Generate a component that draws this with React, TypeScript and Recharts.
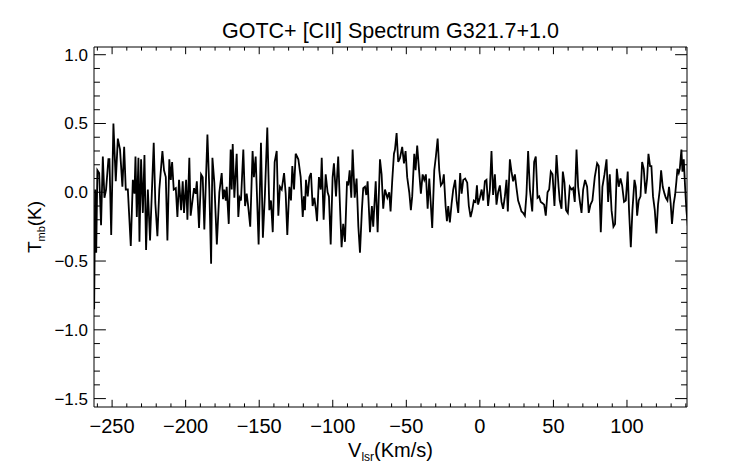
import { LineChart, Line, XAxis, YAxis } from "recharts";

// GOTC+ [CII] spectrum toward G321.7+1.0
const velocity = [
  -262.2, -261.5, -260.8, -260.0, -258.8, -257.5, -256.3, -255.2, -254.1, -252.5,
  -251.8, -250.6, -249.1, -247.5, -246.1, -244.6, -243.0, -241.8, -240.7, -239.3,
  -237.3, -235.9, -234.8, -234.1, -233.2, -232.1, -231.4, -230.3, -229.1, -228.0,
  -226.9, -225.7, -224.2, -221.7, -220.6, -219.2, -217.9, -215.8, -214.7, -213.5,
  -212.4, -211.1, -210.1, -209.2, -208.1, -206.7, -205.6, -204.5, -203.1, -202.0,
  -201.1, -199.7, -198.8, -197.5, -196.6, -195.8, -194.3, -193.2, -192.4, -190.9,
  -189.5, -188.4, -187.3, -185.2, -183.9, -182.7, -181.8, -180.5, -178.8, -177.1,
  -175.5, -174.6, -173.7, -172.7, -172.1, -170.7, -169.4, -168.7, -168.0, -166.9,
  -165.3, -164.2, -163.3, -162.4, -160.8, -159.6, -158.5, -157.6, -156.1, -154.5,
  -153.6, -152.4, -150.4, -148.8, -147.5, -146.1, -144.5, -143.1, -142.0, -140.8,
  -139.5, -138.1, -137.0, -135.9, -134.7, -133.1, -132.0, -130.9, -129.5, -128.4,
  -127.5, -126.3, -125.2, -124.3, -123.4, -121.8, -120.4, -119.6, -118.9, -118.2,
  -117.0, -115.9, -114.8, -113.7, -112.5, -111.4, -110.7, -109.4, -108.2, -107.5,
  -106.2, -104.8, -103.5, -102.6, -101.4, -100.1, -99.2, -97.8, -96.3, -95.1,
  -94.0, -92.9, -91.7, -90.3, -89.5, -88.5, -87.4, -86.5, -85.1, -83.8,
  -82.6, -81.5, -80.2, -79.3, -78.1, -77.2, -76.3, -74.7, -73.4, -72.5,
  -70.8, -69.5, -67.9, -66.8, -65.7, -64.5, -62.9, -61.6, -60.7, -59.6,
  -58.4, -57.7, -56.6, -55.5, -54.3, -52.8, -51.6, -50.5, -49.4, -48.0,
  -46.9, -46.0, -44.6, -43.7, -42.6, -41.2, -40.1, -38.9, -37.8, -36.7,
  -35.5, -34.4, -33.5, -32.4, -31.0, -29.9, -28.7, -27.6, -26.5, -25.3,
  -24.5, -23.3, -22.4, -21.5, -20.4, -19.2, -18.1, -16.8, -15.8, -14.7,
  -13.4, -12.4, -11.3, -10.0, -8.6, -7.5, -6.3, -5.2, -4.1, -2.9,
  -2.0, -1.2, 0.0, 1.2, 2.3, 3.4, 4.5, 5.6, 6.8, 7.9,
  9.0, 10.2, 11.3, 12.4, 13.6, 14.7, 15.8, 17.0, 18.1, 19.0,
  20.4, 21.5, 22.6, 23.8, 24.9, 26.0, 27.2, 28.3, 29.4, 30.6,
  31.7, 32.8, 34.0, 35.6, 36.9, 38.0, 39.2, 40.3, 41.4, 42.6,
  43.7, 44.8, 46.0, 47.1, 48.2, 49.4, 50.7, 52.1, 53.5, 54.3,
  55.5, 56.4, 57.5, 58.6, 59.8, 61.1, 62.3, 63.4, 64.5, 65.7,
  66.8, 67.9, 69.1, 70.2, 71.5, 72.9, 74.0, 75.2, 76.5, 78.1,
  79.7, 80.8, 82.2, 83.3, 84.7, 86.1, 87.2, 88.3, 89.5, 90.8,
  91.9, 93.1, 94.4, 95.6, 96.7, 98.0, 99.2, 100.5, 101.4, 102.6,
  103.7, 105.1, 106.0, 106.9, 108.0, 109.2, 110.3, 111.4, 112.6, 113.7,
  114.6, 115.7, 116.6, 117.7, 118.9, 120.0, 121.1, 122.3, 123.2, 124.3,
  125.5, 126.4, 127.5, 128.6, 129.7, 130.6, 131.8, 132.7, 133.6, 134.3,
  135.2, 135.9, 137.0, 137.7, 138.6, 139.5, 140.4, 141.5,
];

const tmb = [
  -0.85, 0.02, -0.44, 0.16, 0.14, -0.24, 0.26, -0.04, 0.02, 0.24,
  0.24, -0.31, 0.5, 0.08, 0.39, 0.31, 0.04, 0.33, 0.02, 0.02,
  -0.39, 0.09, -0.01, 0.26, -0.18, 0.25, -0.36, 0.24, -0.15, 0.27,
  -0.42, 0.02, -0.35, 0.36, -0.08, -0.32, 0.02, 0.3, 0.16, 0.11,
  -0.35, 0.24, 0.09, 0.22, 0.02, 0.03, -0.18, 0.09, -0.13, 0.08,
  -0.15, 0.09, -0.2, 0.25, -0.17, -0.1, 0.03, -0.01, 0.08, -0.26,
  0.13, 0.11, -0.27, 0.42, 0.02, -0.52, 0.25, 0.07, -0.38, 0.0,
  0.14, -0.05, 0.02, -0.06, 0.04, -0.23, 0.31, 0.02, 0.35, -0.04,
  0.28, -0.18, -0.04, -0.06, 0.31, -0.1, -0.01, -0.09, -0.25, 0.3,
  0.11, 0.26, -0.38, 0.36, -0.33, -0.01, 0.47, -0.13, -0.06, -0.29,
  0.22, 0.3, -0.17, 0.04, 0.02, 0.14, -0.01, -0.31, 0.04, -0.06,
  0.19, 0.02, 0.28, 0.26, 0.24, 0.11, -0.18, -0.03, -0.13, 0.09,
  -0.03, 0.11, 0.14, -0.1, -0.04, -0.13, -0.21, 0.11, 0.02, 0.25,
  -0.2, 0.13, 0.0, -0.03, -0.38, 0.11, 0.21, -0.03, 0.26, -0.1,
  -0.4, -0.23, -0.36, 0.08, 0.05, 0.16, -0.04, 0.31, -0.04, 0.1,
  -0.25, -0.44, -0.13, 0.03, 0.04, -0.02, 0.08, -0.29, -0.1, -0.25,
  0.08, -0.29, 0.24, 0.13, -0.12, 0.02, -0.04, 0.0, -0.14, 0.08,
  0.28, 0.31, 0.43, 0.22, 0.25, 0.33, 0.21, 0.3, 0.11, 0.0,
  -0.13, -0.03, 0.28, 0.16, 0.34, 0.14, -0.01, 0.13, 0.09, 0.13,
  -0.12, 0.1, -0.06, -0.26, 0.16, 0.26, 0.39, 0.16, 0.05, 0.07,
  0.13, -0.1, -0.21, -0.1, -0.22, -0.08, 0.02, 0.09, -0.06, -0.15,
  0.14, -0.01, 0.09, 0.1, 0.07, -0.1, -0.18, -0.13, -0.06, -0.07,
  0.05, -0.09, -0.04, 0.02, -0.06, 0.08, 0.09, -0.1, 0.02, 0.3,
  -0.02, 0.13, -0.09, 0.0, 0.05, -0.07, -0.12, -0.03, 0.09, -0.14,
  0.24, 0.15, 0.08, 0.13, 0.03, -0.06, -0.1, -0.14, -0.15, -0.17,
  -0.01, 0.3, 0.02, -0.14, 0.22, 0.26, -0.04, -0.03, -0.07, -0.08,
  -0.09, -0.17, 0.0, 0.02, 0.15, 0.13, -0.1, 0.27, 0.04, -0.06,
  -0.12, 0.15, 0.07, -0.13, -0.15, 0.04, 0.02, 0.03, -0.07, 0.31,
  0.04, -0.06, -0.15, 0.02, 0.09, 0.04, -0.15, -0.09, -0.06, 0.11,
  0.21, 0.19, -0.29, 0.04, 0.13, 0.24, -0.07, 0.13, -0.13, -0.25,
  -0.23, 0.17, 0.04, 0.1, 0.05, -0.07, -0.06, 0.15, -0.13, -0.4,
  -0.13, 0.09, 0.04, -0.17, -0.06, -0.03, 0.22, 0.17, -0.01, 0.1,
  0.28, 0.19, 0.19, -0.03, -0.13, -0.3, -0.09, 0.02, 0.16, 0.04,
  -0.01, -0.04, -0.06, 0.04, -0.08, -0.23, -0.08, -0.02, 0.08, 0.17,
  0.14, 0.17, 0.31, 0.15, 0.24, 0.04, -0.13, -0.26,
];

const xMajorTicks = [-250, -200, -150, -100, -50, 0, 50, 100];
const xTickLabels = ["\u2212250", "\u2212200", "\u2212150", "\u2212100", "\u221250", "0", "50", "100"];
const xMinorTicks = [
  -260, -240, -230, -220, -210, -190, -180, -170, -160, -140, -130, -120, -110,
  -90, -80, -70, -60, -40, -30, -20, -10, 10, 20, 30, 40, 60, 70, 80, 90,
  110, 120, 130, 140,
];
const yMajorTicks = [-1.5, -1.0, -0.5, 0.0, 0.5, 1.0];
const yTickLabels = ["\u22121.5", "\u22121.0", "\u22120.5", "0.0", "0.5", "1.0"];
const yMinorTicks = [
  -1.4, -1.3, -1.2, -1.1, -0.9, -0.8, -0.7, -0.6, -0.4, -0.3, -0.2, -0.1,
  0.1, 0.2, 0.3, 0.4, 0.6, 0.7, 0.8, 0.9,
];

const data = velocity.map((v, i) => ({ v, t: tmb[i] }));
const xTicks = [...xMajorTicks, ...xMinorTicks].sort((a, b) => a - b);
const yTicks = [...yMajorTicks, ...yMinorTicks].sort((a, b) => a - b);

const FONT = "'Liberation Sans', Arial, Helvetica, sans-serif";
const X_DOMAIN = [-262.3, 140.8];
const Y_DOMAIN = [-1.561, 1.056];
// IDL style: tick length is 2% of the plot size, minor ticks half of that
const X_MAJOR_LEN = 7.2;
const Y_MAJOR_LEN = 11.9;

const majorIndex = (list: number[], v: number) =>
  list.findIndex((m) => Math.abs(m - v) < 1e-6);

function BottomTick({ x, y, payload }: any) {
  const idx = majorIndex(xMajorTicks, payload.value);
  const len = idx >= 0 ? X_MAJOR_LEN : X_MAJOR_LEN / 2;
  return (
    <g>
      <line x1={x} x2={x} y1={y} y2={y - len} stroke="#000" strokeWidth={1} />
      {idx >= 0 && (
        <text x={x} y={y + 26} textAnchor="middle" fontSize={20} fontFamily={FONT} fill="#000">
          {xTickLabels[idx]}
        </text>
      )}
    </g>
  );
}

function TopTick({ x, y, payload }: any) {
  const len = majorIndex(xMajorTicks, payload.value) >= 0 ? X_MAJOR_LEN : X_MAJOR_LEN / 2;
  return <line x1={x} x2={x} y1={y} y2={y + len} stroke="#000" strokeWidth={1} />;
}

function LeftTick({ x, y, payload }: any) {
  const idx = majorIndex(yMajorTicks, payload.value);
  const len = idx >= 0 ? Y_MAJOR_LEN : Y_MAJOR_LEN / 2;
  return (
    <g>
      <line x1={x} x2={x + len} y1={y} y2={y} stroke="#000" strokeWidth={1} />
      {idx >= 0 && (
        <text x={x - 6} y={y + 6} textAnchor="end" fontSize={17} fontFamily={FONT} fill="#000">
          {yTickLabels[idx]}
        </text>
      )}
    </g>
  );
}

function RightTick({ x, y, payload }: any) {
  const len = majorIndex(yMajorTicks, payload.value) >= 0 ? Y_MAJOR_LEN : Y_MAJOR_LEN / 2;
  return <line x1={x} x2={x - len} y1={y} y2={y} stroke="#000" strokeWidth={1} />;
}

const axisLine = { stroke: "#000", strokeWidth: 1 };

export default function App() {
  return (
    <div style={{ position: "absolute", left: 0, top: 0, width: 742, height: 464, background: "#fff" }}>
      <LineChart width={742} height={464} data={data} margin={{ top: 46, right: 54, bottom: 0, left: 0 }}>
        <XAxis
          dataKey="v"
          type="number"
          domain={X_DOMAIN}
          allowDataOverflow
          ticks={xTicks}
          interval={0}
          height={57}
          tickSize={0}
          tickMargin={0}
          tickLine={false}
          axisLine={axisLine}
          tick={<BottomTick />}
        />
        <XAxis
          xAxisId="top"
          dataKey="v"
          orientation="top"
          type="number"
          domain={X_DOMAIN}
          allowDataOverflow
          ticks={xTicks}
          interval={0}
          height={1}
          tickSize={0}
          tickMargin={0}
          tickLine={false}
          axisLine={axisLine}
          tick={<TopTick />}
        />
        <YAxis
          type="number"
          domain={Y_DOMAIN}
          allowDataOverflow
          ticks={yTicks}
          interval={0}
          width={94}
          tickSize={0}
          tickMargin={0}
          tickLine={false}
          axisLine={axisLine}
          tick={<LeftTick />}
        />
        <YAxis
          yAxisId="right"
          orientation="right"
          type="number"
          domain={Y_DOMAIN}
          allowDataOverflow
          ticks={yTicks}
          interval={0}
          width={1}
          tickSize={0}
          tickMargin={0}
          tickLine={false}
          axisLine={axisLine}
          tick={<RightTick />}
        />
        {/* invisible copy that ties the top and right frame axes to the data */}
        <Line
          xAxisId="top"
          yAxisId="right"
          type="linear"
          dataKey="t"
          stroke="none"
          dot={false}
          activeDot={false}
          isAnimationActive={false}
        />
        <Line
          type="linear"
          dataKey="t"
          stroke="#000"
          strokeWidth={1.8}
          dot={false}
          activeDot={false}
          isAnimationActive={false}
        />
      </LineChart>
      <svg
        width={742}
        height={464}
        style={{ position: "absolute", left: 0, top: 0, pointerEvents: "none" }}
        fontFamily={FONT}
        fill="#000"
      >
        <text x={390.5} y={38} textAnchor="middle" fontSize={21.5}>
          GOTC+ [CII] Spectrum G321.7+1.0
        </text>
        <text x={390.5} y={457} textAnchor="middle" fontSize={20}>
          V
          <tspan fontSize={12} dy={4}>lsr</tspan>
          <tspan dy={-4}>(Km/s)</tspan>
        </text>
        <text transform="translate(41,227) rotate(-90)" textAnchor="middle" fontSize={19}>
          T
          <tspan fontSize={11} dy={4}>mb</tspan>
          <tspan dy={-4}>(K)</tspan>
        </text>
      </svg>
    </div>
  );
}
